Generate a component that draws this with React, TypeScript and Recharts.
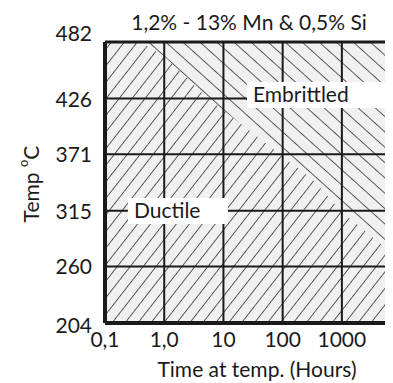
import { ComposedChart, Area, XAxis, YAxis, ReferenceArea, ReferenceLine } from "recharts";

const xTicks = [0.1, 1, 10, 100, 1000];
const xTickLabels = ["0,1", "1,0", "10", "100", "1000"];
const yTicks = [204, 260, 315, 371, 426, 482];

// boundary between ductile (below) and embrittled (above)
const hours = [0.4, 1, 5, 100, 330, 1000, 7300];
const boundary = [482, 468, 428, 369, 345, 314, 272];

const data = hours.map((h, i) => ({ h, temp: boundary[i] }));

const FONT = "Lato, 'Open Sans', sans-serif";
const FS = 21;
const INK = "#1a1a1a";

const XTick = ({ x, y, payload }: any) => {
  const i = xTicks.indexOf(payload.value);
  return (
    <text x={x} y={y + 24} textAnchor="middle" fontSize={FS} fontFamily={FONT} fill={INK}>
      {xTickLabels[i]}
    </text>
  );
};

const YTick = ({ x, y, payload }: any) => {
  let dy = 8;
  if (payload.value === 482) dy = -1;
  if (payload.value === 204) dy = 10;
  return (
    <text x={x - 13} y={y + dy} textAnchor="end" fontSize={FS} fontFamily={FONT} fill={INK}>
      {payload.value}
    </text>
  );
};

export default function App() {
  return (
    <ComposedChart
      width={385}
      height={375}
      data={data}
      margin={{ top: 34, right: 0, bottom: 0, left: 37 }}
    >
      <defs>
        <pattern id="fwd" width="10.2" height="10" patternUnits="userSpaceOnUse" patternTransform="rotate(38)">
          <rect width="10.2" height="10" fill="#f0f0f0" />
          <line x1="0" y1="0" x2="0" y2="10" stroke={INK} strokeWidth={1.4} />
        </pattern>
        <pattern id="back" width="11.4" height="10" patternUnits="userSpaceOnUse" patternTransform="rotate(-48)">
          <rect width="11.4" height="10" fill="#f0f0f0" />
          <line x1="0" y1="0" x2="0" y2="10" stroke={INK} strokeWidth={1.4} />
        </pattern>
      </defs>
      <XAxis
        dataKey="h"
        type="number"
        scale="log"
        domain={[0.1, 7300]}
        ticks={xTicks}
        allowDataOverflow
        axisLine={false}
        tickLine={false}
        tickSize={0}
        tickMargin={0}
        height={60}
        tick={<XTick />}
        label={{
          value: "Time at temp. (Hours)",
          position: "insideBottom",
          offset: 6,
          dx: 8,
          fontSize: FS,
          fontFamily: FONT,
          fill: INK,
        }}
      />
      <YAxis
        type="number"
        domain={[204, 482]}
        ticks={yTicks}
        axisLine={false}
        tickLine={false}
        tickSize={0}
        tickMargin={0}
        width={60}
        tick={<YTick />}
        label={{
          content: () => (
            <text
              x={22}
              y={176}
              transform="rotate(-90 22 176)"
              textAnchor="middle"
              dominantBaseline="central"
              fontSize={FS}
              fontFamily={FONT}
              fill={INK}
            >
              Temp <tspan fontSize={13} dy={-7}>o</tspan>
              <tspan dy={7}>C</tspan>
            </text>
          ),
        }}
      />
      <ReferenceArea x1={0.1} x2={7300} y1={204} y2={482} fill="url(#fwd)" fillOpacity={1} stroke="none" />
      <Area
        dataKey="temp"
        type="linear"
        baseValue="dataMax"
        fill="url(#back)"
        fillOpacity={1}
        stroke="none"
        isAnimationActive={false}
      />
      {xTicks.slice(1).map((t) => (
        <ReferenceLine key={"x" + t} x={t} stroke={INK} strokeWidth={2} />
      ))}
      {yTicks.slice(1, -1).map((t) => (
        <ReferenceLine key={"y" + t} y={t} stroke={INK} strokeWidth={2} />
      ))}
      <ReferenceArea
        x1={25}
        x2={5400}
        y1={416.7}
        y2={442.4}
        fill="#ffffff"
        fillOpacity={1}
        stroke="none"
        zIndex={1500}
        label={{ value: "Embrittled", position: "insideLeft", offset: 6, fontSize: FS, fontFamily: FONT, fill: INK }}
      />
      <ReferenceArea
        x1={0.244}
        x2={11.9}
        y1={302}
        y2={327.7}
        fill="#ffffff"
        fillOpacity={1}
        stroke="none"
        zIndex={1500}
        label={{ value: "Ductile", position: "insideLeft", offset: 6, fontSize: FS, fontFamily: FONT, fill: INK }}
      />
      <ReferenceLine x={0.1} stroke={INK} strokeWidth={4} />
      <ReferenceLine y={204} stroke={INK} strokeWidth={4} />
      <ReferenceLine
        y={482}
        stroke={INK}
        strokeWidth={3}
        label={{
          value: "1,2% - 13% Mn & 0,5% Si",
          position: "top",
          offset: 12,
          fontSize: FS,
          fontFamily: FONT,
          fill: INK,
        }}
      />
    </ComposedChart>
  );
}
